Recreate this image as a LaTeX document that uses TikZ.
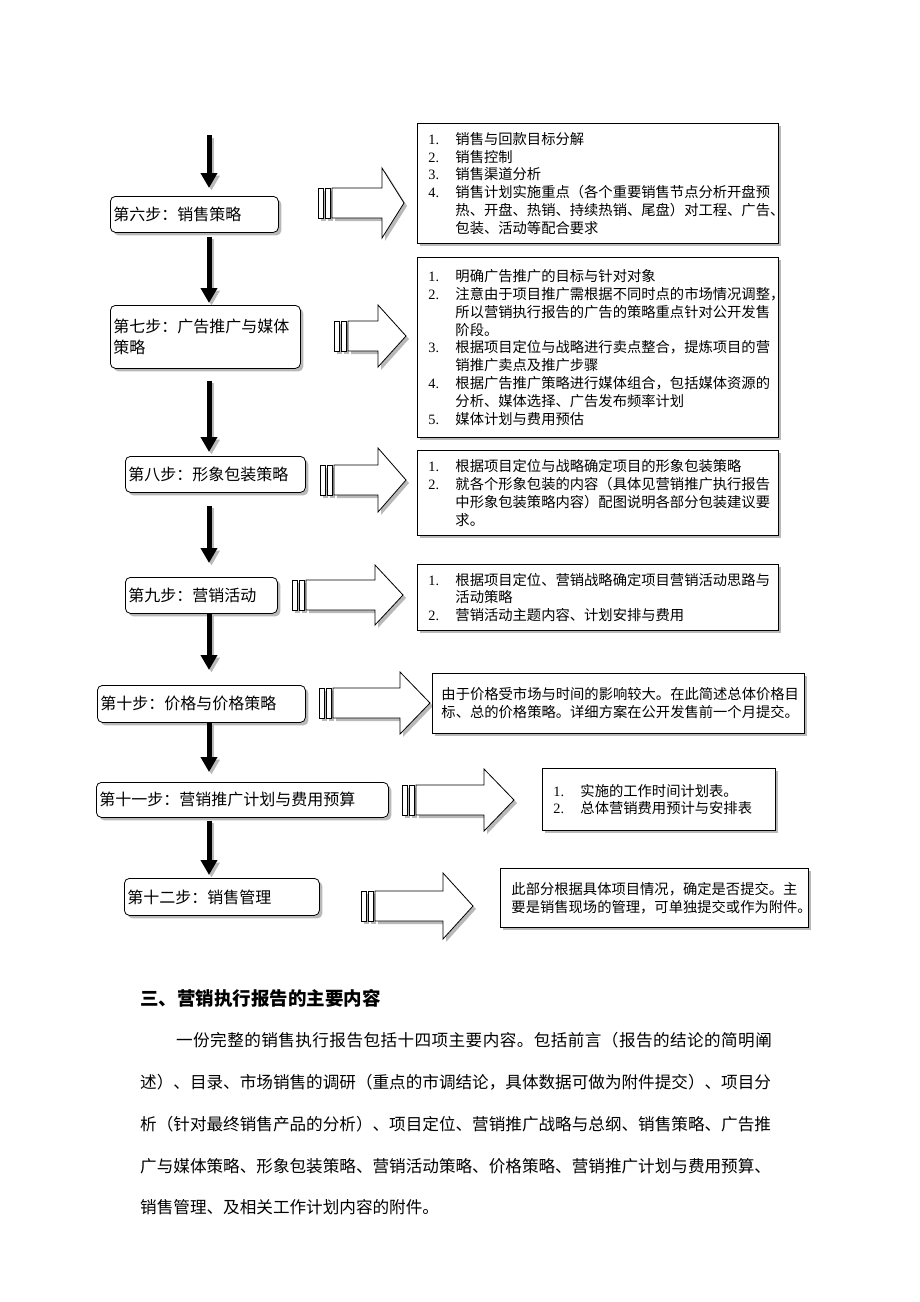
\documentclass[tikz,border=0pt]{standalone}
\usepackage{fontspec}
\setmainfont{Noto Sans CJK SC}
\newfontfamily\numfont{Liberation Serif}
\usetikzlibrary{arrows.meta,shadows}
\tikzset{
  shade it/.style={drop shadow={shadow xshift=3pt, shadow yshift=-3pt, fill=gray!55, opacity=1}},
  stepbox/.style={draw, fill=white, rounded corners=5pt, line width=0.8pt, anchor=north west,
    align=left, inner xsep=3pt, font=\fontsize{16pt}{21pt}\selectfont, shade it},
  notebox/.style={draw, fill=white, line width=0.9pt, anchor=north west,
    align=left, inner xsep=11pt, font=\fontsize{14.3pt}{17.8pt}\selectfont, shade it},
  blockarrow/.style={draw, fill=white, line width=0.8pt, line join=miter, shade it},
  flowarrow/.style={line width=5pt, -{Triangle[width=16pt,length=15pt]}},
  para/.style={anchor=west, inner sep=0pt, font=\fontsize{16.6pt}{20pt}\selectfont}
}
\newcommand{\stripearrow}[5]{
\draw[blockarrow] (#1,#4-15) rectangle (#1+5,#4+15);
\draw[blockarrow] (#1+7,#4-15) rectangle (#1+12,#4+15);
\draw[blockarrow] (#1+14,#4-15) -- (#2,#4-15) -- (#2,#4-#5) -- (#3,#4)
  -- (#2,#4+#5) -- (#2,#4+15) -- (#1+14,#4+15) -- cycle;
}
\newcommand{\litem}[1]{\makebox[27pt][l]{\numfont #1}}
\newcommand{\lcont}{\hspace*{27pt}}

\begin{document}
\begin{tikzpicture}[x=1pt, y=-1pt]
\useasboundingbox (0,0) rectangle (920,1302);

\node[stepbox, text width=162pt, minimum height=36pt] at (110,196) (s6) {第六步：销售策略};
\node[stepbox, text width=184pt, minimum height=63pt] at (110,305) (s7) {第七步：广告推广与媒体\\策略};
\node[stepbox, text width=174pt, minimum height=36pt] at (125,456) (s8) {第八步：形象包装策略};
\node[stepbox, text width=146pt, minimum height=36pt] at (125,577) (s9) {第九步：营销活动};
\node[stepbox, text width=202pt, minimum height=37pt] at (97,685) (s10) {第十步：价格与价格策略};
\node[stepbox, text width=286pt, minimum height=35pt] at (96,782) (s11) {第十一步：营销推广计划与费用预算};
\node[stepbox, text width=189pt, minimum height=37pt] at (124,878) (s12) {第十二步：销售管理};

\coordinate (top) at (209,135);
\begin{scope}[gray!55, transform canvas={xshift=2.5pt, yshift=-2.5pt}]
\draw[flowarrow, shorten >=8pt] (top) -- (s6.north -| top);
\foreach \a/\b/\p/\q in {s6/s7/4pt/2pt, s7/s8/12pt/4pt, s8/s9/13pt/14pt, s9/s10/0pt/15pt, s10/s11/0pt/10pt, s11/s12/3pt/3pt}
  \draw[flowarrow, shorten <=\p, shorten >=\q] (\a.south -| top) -- (\b.north -| top);
\end{scope}
\draw[flowarrow, shorten >=8pt] (top) -- (s6.north -| top);
\foreach \a/\b/\p/\q in {s6/s7/4pt/2pt, s7/s8/12pt/4pt, s8/s9/13pt/14pt, s9/s10/0pt/15pt, s10/s11/0pt/10pt, s11/s12/3pt/3pt}
  \draw[flowarrow, shorten <=\p, shorten >=\q] (\a.south -| top) -- (\b.north -| top);

\foreach \l/\b/\t/\c/\h in {318/382/404/203/35, 334/378/406/336/31, 320/378/406/480/32, 292/375/403/595/30,
  319/400/430/703/31, 402/484/514/800/31, 361/443/473/906/33}
  {\stripearrow{\l}{\b}{\t}{\c}{\h}}

\node[notebox, text width=339pt, minimum height=120pt] at (417,123) (t6) {
\litem{1.}销售与回款目标分解\\
\litem{2.}销售控制\\
\litem{3.}销售渠道分析\\
\litem{4.}销售计划实施重点（各个重要销售节点分析开盘预\\
\lcont 热、开盘、热销、持续热销、尾盘）对工程、广告、\\
\lcont 包装、活动等配合要求};
\node[notebox, text width=339pt, minimum height=180pt] at (417,257) (t7) {
\litem{1.}明确广告推广的目标与针对对象\\
\litem{2.}注意由于项目推广需根据不同时点的市场情况调整，\\
\lcont 所以营销执行报告的广告的策略重点针对公开发售\\
\lcont 阶段。\\
\litem{3.}根据项目定位与战略进行卖点整合，提炼项目的营\\
\lcont 销推广卖点及推广步骤\\
\litem{4.}根据广告推广策略进行媒体组合，包括媒体资源的\\
\lcont 分析、媒体选择、广告发布频率计划\\
\litem{5.}媒体计划与费用预估};
\node[notebox, text width=339pt, minimum height=85pt] at (417,450) (t8) {
\litem{1.}根据项目定位与战略确定项目的形象包装策略\\
\litem{2.}就各个形象包装的内容（具体见营销推广执行报告\\
\lcont 中形象包装策略内容）配图说明各部分包装建议要\\
\lcont 求。};
\node[notebox, text width=339pt, minimum height=66pt] at (417,564) (t9) {
\litem{1.}根据项目定位、营销战略确定项目营销活动思路与\\
\lcont 活动策略\\
\litem{2.}营销活动主题内容、计划安排与费用};
\node[notebox, inner xsep=9pt, text width=354pt, minimum height=60pt] at (432,673) (t10) {
由于价格受市场与时间的影响较大。在此简述总体价格目\\
标、总的价格策略。详细方案在公开发售前一个月提交。};
\node[notebox, text width=211pt, minimum height=62pt] at (542,768) (t11) {
\litem{1.}实施的工作时间计划表。\\
\litem{2.}总体营销费用预计与安排表};
\node[notebox, text width=286pt, minimum height=59pt] at (500,868) (t12) {
此部分根据具体项目情况，确定是否提交。主\\
要是销售现场的管理，可单独提交或作为附件。};

\node[anchor=west, inner sep=0pt, font=\bfseries\fontsize{18.5pt}{22pt}\selectfont] at (140,998) (heading) {三、营销执行报告的主要内容};
\node[para] at (176,1040) (p1) {\addfontfeature{LetterSpace=2.6}一份完整的销售执行报告包括十四项主要内容。包括前言（报告的结论的简明阐};
\node[para] at (140,1082) (p2) {述）、目录、市场销售的调研（重点的市调结论，具体数据可做为附件提交）、项目分};
\node[para] at (140,1124) (p3) {析（针对最终销售产品的分析）、项目定位、营销推广战略与总纲、销售策略、广告推};
\node[para] at (140,1166) (p4) {广与媒体策略、形象包装策略、营销活动策略、价格策略、营销推广计划与费用预算、};
\node[para] at (140,1207) (p5) {销售管理、及相关工作计划内容的附件。};
\end{tikzpicture}
\end{document}
